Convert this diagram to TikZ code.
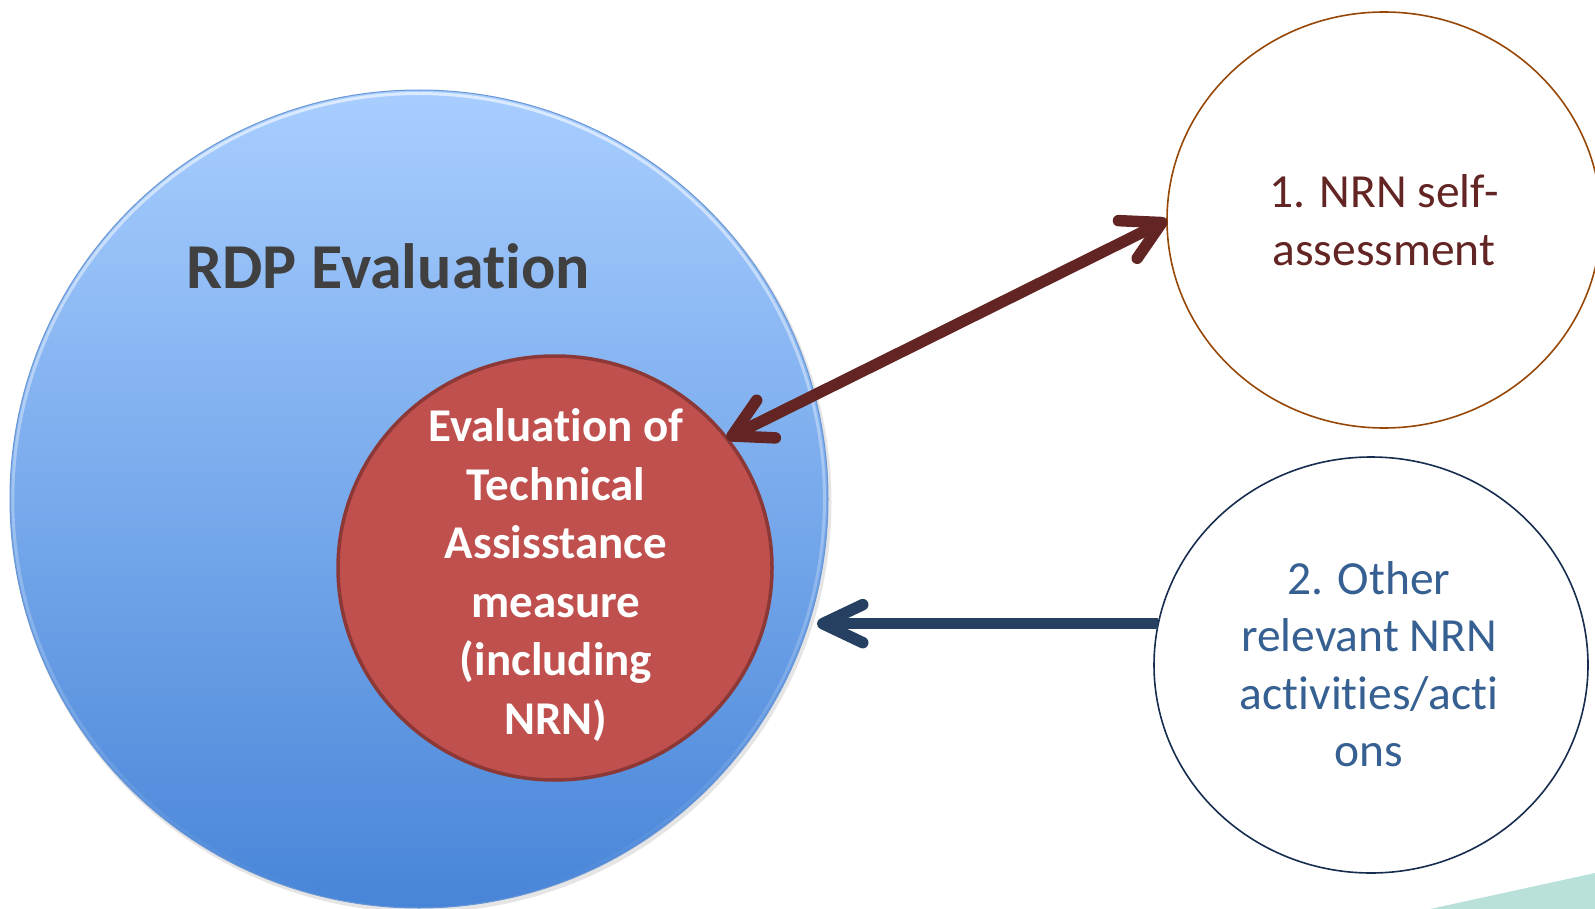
\documentclass[tikz,border=0pt]{standalone}
\usepackage{fontspec}
\setmainfont{Carlito}[Ligatures=NoCommon]
\usetikzlibrary{arrows.meta,shapes.geometric,fadings}
\definecolor{rdpTop}{RGB}{168,206,255}
\definecolor{rdpBot}{RGB}{72,133,216}
\definecolor{rdpLine}{RGB}{105,150,212}
\definecolor{taFill}{RGB}{192,80,77}
\definecolor{taLine}{RGB}{140,56,54}
\definecolor{brownArrow}{RGB}{99,37,35}
\definecolor{navyArrow}{RGB}{37,64,97}
\definecolor{nrnLine}{RGB}{152,72,6}
\definecolor{othLine}{RGB}{23,45,80}
\definecolor{nrnText}{RGB}{99,37,35}
\definecolor{othText}{RGB}{55,96,146}
\definecolor{rdpText}{RGB}{64,64,64}
\definecolor{tealDeco}{RGB}{185,225,218}
\tikzset{
  bigcircle/.style={circle, minimum size=818pt, inner sep=0pt, outer sep=0pt,
    top color=rdpTop, bottom color=rdpBot, draw=rdpLine, line width=1pt},
  tacircle/.style={ellipse, minimum width=434pt, minimum height=424pt, inner sep=0pt, outer sep=0pt,
    fill=taFill, draw=taLine, line width=3.5pt},
  tatext/.style={text=white, align=center, inner sep=0pt,
    font=\bfseries\fontsize{47}{58.5}\selectfont},
  sidecircle/.style={ellipse, minimum width=434pt, minimum height=416pt, inner sep=0pt, outer sep=0pt,
    fill=white, line width=1.6pt},
  sidetext/.style={align=center, inner sep=0pt, font=\fontsize{47.5}{57.5}\selectfont},
  linkarrow/.style={line width=11.5pt},
}
\begin{document}
\begin{tikzpicture}[x=1pt,y=-1pt]
\useasboundingbox (0,0) rectangle (1595,909);
% decoration bottom right
\fill[tealDeco] (1430,909) -- (1595,873) -- (1595,909) -- cycle;
% soft shadow of the big circle
\fill[black, opacity=0.10] (421,502) circle[radius=410.5];
% circles
\node[bigcircle] (rdp) at (419,499) {};
\draw[white, line width=3pt, opacity=0.6, path fading=south] (419,499) circle[radius=406];
\node[anchor=base west, text=rdpText, font=\bfseries\fontsize{64}{70}\selectfont] (rdptitle) at (183,289) {RDP Evaluation};
\node[tacircle] (ta) at (555,568) {};
\node[tatext] (tatxt) at (556,575) {Evaluation of\\Technical\\Assisstance\\measure\\(including\\NRN)};
\node[sidecircle, draw=nrnLine] (nrn) at (1384,220) {};
\node[sidetext, text=nrnText] (nrntxt) at (1384,220) {1. NRN self-\\assessment};
\node[sidecircle, draw=othLine] (oth) at (1371,665) {};
\node[sidetext, text=othText] (othtxt) at (1369,664) {2. Other\\relevant NRN\\activities/acti\\ons};
% arrows
\coordinate (btip) at (817,625);
\draw[linkarrow, draw=brownArrow, {Straight Barb[length=38pt,width=42pt,round,line width=11.5pt]}-{Straight Barb[length=38pt,width=42pt,round,line width=11.5pt]}] (ta.37) -- (nrn.west);
\draw[linkarrow, draw=navyArrow, -{Straight Barb[length=40pt,width=38pt,round,line width=11.5pt]}] (oth.169.4) -- (btip |- oth.169.4);
\end{tikzpicture}
\end{document}
